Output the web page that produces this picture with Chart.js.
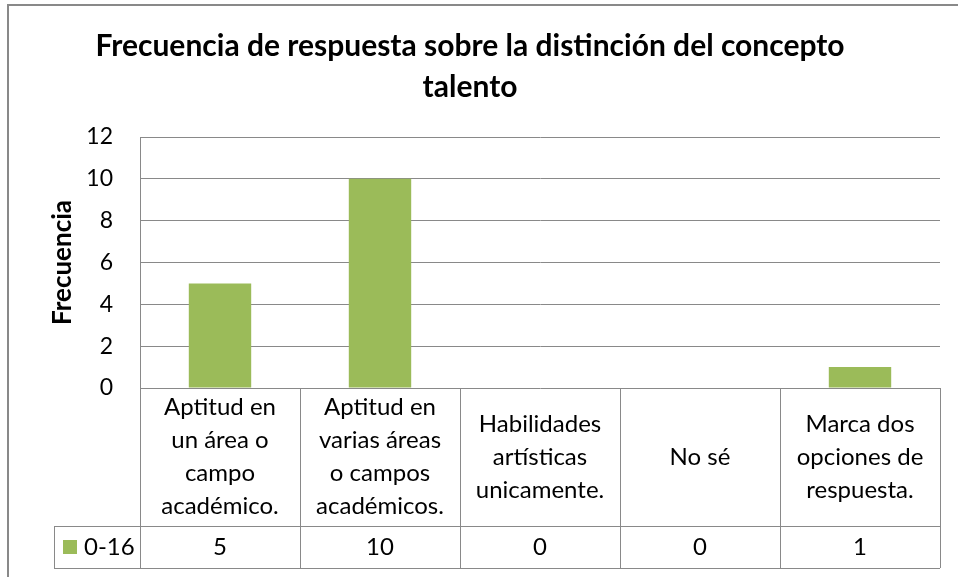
<!DOCTYPE html>
<html>
<head>
<meta charset="utf-8">
<script src="https://cdn.jsdelivr.net/npm/chart.js@4"></script>
<style>
    body { margin: 0; background: #fff; }
    #wrap { width: 958px; height: 577px; position: relative; }
</style>
</head>
<body>
<div id="wrap"><canvas id="grafico" width="958" height="577"></canvas></div>
<script>
const categorias = [
    ['Aptitud en', 'un área o', 'campo', 'académico.'],
    ['Aptitud en', 'varias áreas', 'o campos', 'académicos.'],
    ['Habilidades', 'artísticas', 'unicamente.'],
    ['No sé'],
    ['Marca dos', 'opciones de', 'respuesta.']
];
const serie = '0-16';
const valores = [5, 10, 0, 0, 1];
const ticksY = [0, 2, 4, 6, 8, 10, 12];

const verde = '#9bbb59';
const gris = '#898989';
const fuente = 'Lato, "DejaVu Sans", sans-serif';

//Marco exterior del gráfico
const marco = {
    id: 'marco',
    beforeDraw(chart) {
        const ctx = chart.ctx;
        ctx.save();
        ctx.strokeStyle = gris;
        ctx.lineWidth = 2;
        ctx.beginPath();
        ctx.moveTo(8, 577);
        ctx.lineTo(8, 5);
        ctx.lineTo(958, 5);
        ctx.stroke();
        ctx.restore();
    }
};

//Tabla de datos debajo del área de trazado
const tablaDatos = {
    id: 'tablaDatos',
    afterDraw(chart) {
        const ctx = chart.ctx;
        const x = chart.scales.x;
        const area = chart.chartArea;
        const ancho = x.getPixelForValue(1) - x.getPixelForValue(0);
        const filaCat = 526, filaVal = 568, inicio = 54;

        ctx.save();
        ctx.strokeStyle = gris;
        ctx.lineWidth = 1;
        ctx.beginPath();
        for (let i = 0; i <= categorias.length; i++) {
            const bx = Math.round(x.getPixelForValue(0) - ancho / 2 + i * ancho) + 0.5;
            ctx.moveTo(bx, area.bottom);
            ctx.lineTo(bx, filaVal);
        }
        ctx.moveTo(inicio + 0.5, filaCat);
        ctx.lineTo(inicio + 0.5, filaVal);
        ctx.moveTo(inicio, filaCat + 0.5);
        ctx.lineTo(area.right, filaCat + 0.5);
        ctx.moveTo(inicio, filaVal + 0.5);
        ctx.lineTo(area.right, filaVal + 0.5);
        ctx.stroke();

        ctx.fillStyle = '#000';
        ctx.font = '24px ' + fuente;
        ctx.textAlign = 'center';
        ctx.textBaseline = 'middle';
        const centroCat = (area.bottom + filaCat) / 2;
        const centroVal = (filaCat + filaVal) / 2;
        categorias.forEach((lineas, i) => {
            const cx = x.getPixelForValue(i);
            lineas.forEach((t, j) => {
                ctx.fillText(t, cx, centroCat + (j - (lineas.length - 1) / 2) * 33);
            });
            ctx.fillText(String(valores[i]), cx, centroVal);
        });

        ctx.fillStyle = verde;
        ctx.fillRect(63, centroVal - 7, 14, 14);
        ctx.fillStyle = '#000';
        ctx.textAlign = 'left';
        ctx.fillText(serie, 84, centroVal);
        ctx.restore();
    }
};

new Chart(document.getElementById('grafico'), {
    type: 'bar',
    data: {
        labels: categorias,
        datasets: [{
            label: serie,
            data: valores,
            backgroundColor: verde,
            categoryPercentage: 1,
            barPercentage: 0.39
        }]
    },
    options: {
        responsive: false,
        animation: false,
        layout: { padding: { left: 0, right: 18, top: 0, bottom: 189 } },
        plugins: {
            legend: { display: false },
            tooltip: { enabled: false },
            title: {
                display: true,
                text: ['Frecuencia de respuesta sobre la distinción del concepto', 'talento'],
                color: '#000',
                font: { family: fuente, size: 30, weight: 'bold', lineHeight: 41 / 30 },
                padding: { top: 26, bottom: 29 }
            }
        },
        scales: {
            x: { display: false },
            y: {
                min: ticksY[0],
                max: ticksY[ticksY.length - 1],
                afterBuildTicks: (s) => { s.ticks = ticksY.map(v => ({ value: v })); },
                afterFit: (s) => { s.width = 140; },
                grid: { color: gris, drawTicks: false },
                border: { display: true, color: gris },
                ticks: { color: '#000', font: { family: fuente, size: 23 }, padding: 27 },
                title: {
                    display: true,
                    text: 'Frecuencia',
                    color: '#000',
                    font: { family: fuente, size: 26, weight: 'bold' },
                    padding: { top: 47 }
                }
            }
        }
    },
    plugins: [marco, tablaDatos]
});
</script>
</body>
</html>
